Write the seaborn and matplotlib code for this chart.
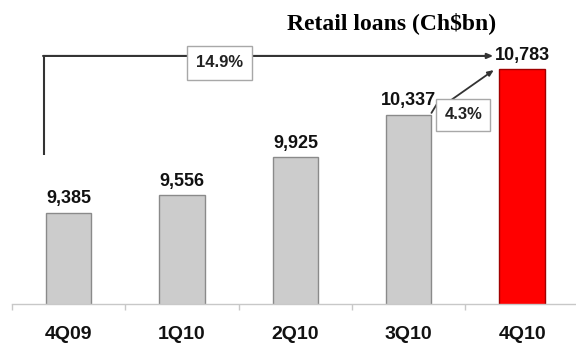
import matplotlib
matplotlib.use("Agg")
import matplotlib.pyplot as plt
import seaborn as sns
import pandas as pd

categories = ["4Q09", "1Q10", "2Q10", "3Q10", "4Q10"]
values = [9385, 9556, 9925, 10337, 10783]
value_labels = ["9,385", "9,556", "9,925", "10,337", "10,783"]
bar_colors = ["#cccccc", "#cccccc", "#cccccc", "#cccccc", "#ff0000"]
edge_colors = ["#8a8a8a", "#8a8a8a", "#8a8a8a", "#8a8a8a", "#a00000"]
growth_total = "14.9%"
growth_qoq = "4.3%"
title = "Retail loans (Ch$bn)"

sns.set_style("white")
plt.rcParams["font.family"] = ["Liberation Sans", "DejaVu Sans"]

fig = plt.figure(figsize=(5.76, 3.43), dpi=100)
ax = fig.add_axes([12 / 576, 1 - 304 / 343, 1 - 12 / 576, 304 / 343])

df = pd.DataFrame({"quarter": categories, "loans": values})
sns.barplot(data=df, x="quarter", y="loans", hue="quarter", palette=bar_colors,
            legend=False, width=0.4, ax=ax, saturation=1)
for patch, ec in zip(ax.patches, edge_colors):
    patch.set_edgecolor(ec)
    patch.set_linewidth(1.0)

ax.set_ylim(8502, 11453)
ax.set_xlim(-0.5, 4.475)
ax.set_xlabel("")
ax.set_ylabel("")
ax.set_yticks([])
for s in ["top", "right", "left"]:
    ax.spines[s].set_visible(False)
ax.spines["bottom"].set_color("#c8c8c8")
ax.spines["bottom"].set_linewidth(1.0)

ax.set_xticks(range(len(categories)))
ax.set_xticklabels(categories, fontsize=14, fontweight="bold", color="#111111")
ax.tick_params(axis="x", which="major", length=0, pad=16)
ax.set_xticks([i - 0.5 for i in range(len(categories))], minor=True)
ax.tick_params(axis="x", which="minor", bottom=True, length=4.5, width=1,
               color="#c8c8c8", direction="out")

# value labels above first four bars
for i in range(len(categories) - 1):
    ax.annotate(value_labels[i], (i, values[i]), xytext=(0, 4), textcoords="offset points",
                ha="center", va="bottom", fontsize=13, fontweight="bold", color="#111111")

# total growth bracket
line_col = "#333333"
top_y = values[-1] + 127
ax.plot([-0.22, -0.22], [9949, top_y], color=line_col, lw=1.5, solid_capstyle="butt")
ax.annotate("", xy=(len(categories) - 1 - 0.255, top_y), xytext=(-0.22 - 0.006, top_y),
            arrowprops=dict(arrowstyle="-|>,head_length=0.35,head_width=0.15",
                            color=line_col, lw=1.5, shrinkA=0, shrinkB=0))
ax.annotate(value_labels[-1], (len(categories) - 1 - 0.24, top_y), ha="left", va="center",
            fontsize=13, fontweight="bold", color="#111111")
ax.annotate(growth_total, (1.33, top_y), xytext=(0, -5), textcoords="offset points",
            ha="center", va="center", fontsize=12, fontweight="bold", color="#222222",
            bbox=dict(boxstyle="square,pad=0.55", fc="white", ec="#a8a8a8", lw=1))

# quarter-on-quarter growth
ax.plot([3.2, 3.25], [values[3] + 20, values[3] + 110], color=line_col, lw=1.3)
ax.annotate("", xy=(3.75, values[4] - 10), xytext=(3.38, values[3] + 150),
            arrowprops=dict(arrowstyle="-|>,head_length=0.35,head_width=0.15",
                            color=line_col, lw=1.3, shrinkA=0, shrinkB=0))
ax.annotate(growth_qoq, (3.48, values[3]), ha="center", va="center",
            fontsize=12, fontweight="bold", color="#222222",
            bbox=dict(boxstyle="square,pad=0.5", fc="white", ec="#a8a8a8", lw=1))

fig.text(392 / 576, 1 - 23 / 343, title, ha="center", va="center", fontsize=17,
         fontweight="bold", family=["Liberation Serif", "DejaVu Serif"], color="black")

fig.savefig("out.png", dpi=100)
